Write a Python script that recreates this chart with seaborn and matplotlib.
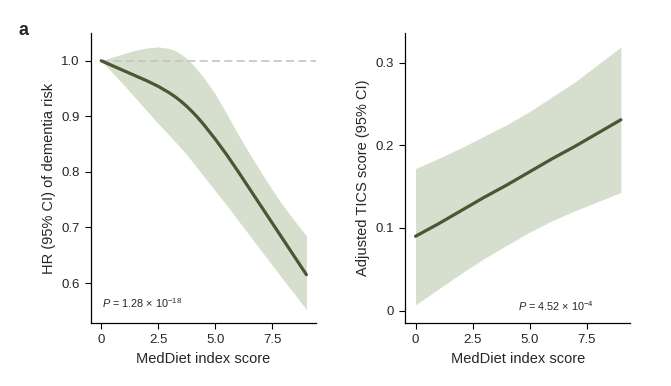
import numpy as np
import pandas as pd
import seaborn as sns
import matplotlib.pyplot as plt

# values
score = [0, 0.5, 1.0, 1.5, 2.0, 2.5, 3.0, 3.25, 3.5, 3.75, 4.0, 4.25, 4.5, 4.75,
         5.0, 5.5, 6.0, 6.5, 7.0, 7.5, 8.0, 8.5, 9.0]
hr = [1.000, 0.991, 0.982, 0.973, 0.964, 0.954, 0.942, 0.935, 0.927, 0.918, 0.908, 0.897, 0.885, 0.872,
      0.859, 0.831, 0.801, 0.770, 0.739, 0.708, 0.677, 0.646, 0.615]
hr_upper = [1.000, 1.007, 1.013, 1.019, 1.023, 1.025, 1.022, 1.018, 1.012, 1.004, 0.994, 0.982, 0.969, 0.955,
            0.940, 0.905, 0.868, 0.833, 0.800, 0.768, 0.738, 0.711, 0.685]
hr_lower = [1.000, 0.978, 0.956, 0.933, 0.910, 0.887, 0.865, 0.854, 0.843, 0.831, 0.818, 0.805, 0.792, 0.779,
            0.766, 0.740, 0.713, 0.686, 0.659, 0.632, 0.605, 0.579, 0.552]

score_tics = [0, 1, 2, 3, 4, 5, 6, 7, 8, 9]
tics = [0.090, 0.105, 0.121, 0.137, 0.152, 0.168, 0.184, 0.199, 0.215, 0.231]
tics_upper = [0.172, 0.184, 0.197, 0.211, 0.225, 0.241, 0.259, 0.277, 0.298, 0.319]
tics_lower = [0.007, 0.026, 0.045, 0.063, 0.079, 0.095, 0.109, 0.121, 0.132, 0.143]

x_ticks = [0, 2.5, 5.0, 7.5]
x_ticklabels = ["0", "2.5", "5.0", "7.5"]
hr_ticks = [0.6, 0.7, 0.8, 0.9, 1.0]
tics_ticks = [0, 0.1, 0.2, 0.3]
tics_ticklabels = ["0", "0.1", "0.2", "0.3"]

line_color = "#4a5634"
band_color = "#d6decd"

sns.set_style("ticks")
plt.rcParams['font.family'] = ['Liberation Sans', 'DejaVu Sans']
plt.rcParams['mathtext.fontset'] = 'custom'
plt.rcParams['mathtext.rm'] = 'Liberation Sans'
plt.rcParams['mathtext.it'] = 'Liberation Sans:italic'

fig = plt.figure(figsize=(6.71, 3.86), dpi=100)
ax1 = fig.add_axes([0.1356, 0.1632, 0.3353, 0.7513])
ax2 = fig.add_axes([0.604, 0.1632, 0.3349, 0.7513])

hr_df = pd.DataFrame({"score": score, "hr": hr})
tics_df = pd.DataFrame({"score": score_tics, "tics": tics})

# panel 1: hazard ratio
ax1.fill_between(score, hr_lower, hr_upper, color=band_color, lw=0, zorder=1)
ax1.hlines(1.0, 0, 9.42, color="#c4c4c4", lw=1.2, ls=(0, (4.8, 2.6)), zorder=2)
sns.lineplot(data=hr_df, x="score", y="hr", ax=ax1, color=line_color, lw=2.3, zorder=3)
ax1.set_xlim(-0.45, 9.42)
ax1.set_ylim(0.528, 1.05)
ax1.set_yticks(hr_ticks)
ax1.set_yticklabels([f"{v:.1f}" for v in hr_ticks])
ax1.set_ylabel("HR (95% CI) of dementia risk", fontsize=10.5)
ax1.text(0.05, 0.563, r"$P$ = 1.28 × 10$^{\mathregular{-18}}$", fontsize=7.8,
         va="center", ha="left")

# panel 2: TICS score
ax2.fill_between(score_tics, tics_lower, tics_upper, color=band_color, lw=0, zorder=1)
sns.lineplot(data=tics_df, x="score", y="tics", ax=ax2, color=line_color, lw=2.3, zorder=3)
ax2.set_xlim(-0.45, 9.4)
ax2.set_ylim(-0.015, 0.336)
ax2.set_yticks(tics_ticks)
ax2.set_yticklabels(tics_ticklabels)
ax2.set_ylabel("Adjusted TICS score (95% CI)", fontsize=10.5)
ax2.text(4.5, 0.005, r"$P$ = 4.52 × 10$^{\mathregular{-4}}$", fontsize=7.8,
         va="center", ha="left")

for ax in (ax1, ax2):
    ax.set_xticks(x_ticks)
    ax.set_xticklabels(x_ticklabels)
    ax.set_xlabel("MedDiet index score", fontsize=10.5)
    ax.tick_params(labelsize=9.5, length=4, width=0.8, color="black", pad=4)
    for s in ("left", "bottom"):
        ax.spines[s].set_linewidth(0.9)
        ax.spines[s].set_color("black")
    sns.despine(ax=ax)

fig.text(0.027, 0.91, "a", fontsize=13, fontweight="bold")

fig.savefig("out.png", dpi=100)
